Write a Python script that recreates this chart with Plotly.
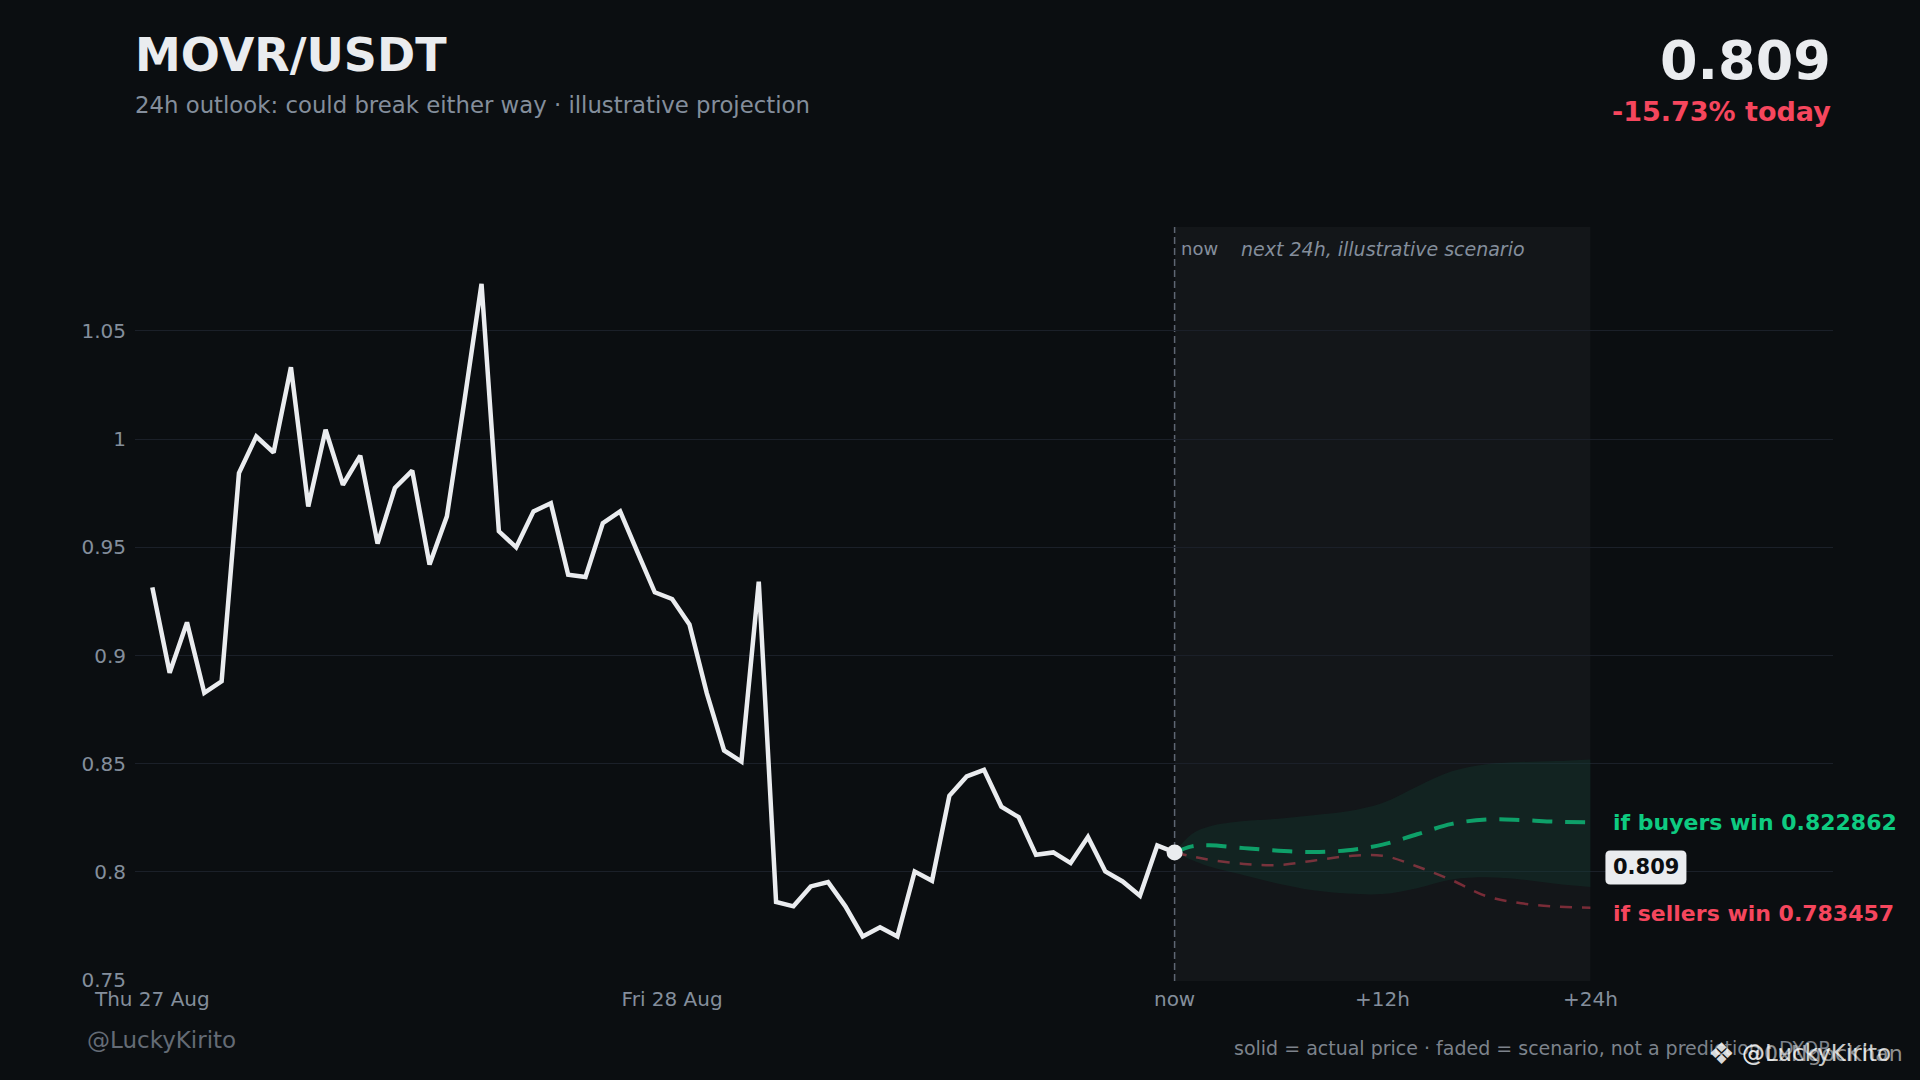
import plotly.graph_objects as go

# ---------------- data ----------------
hist_hours = list(range(-59, 1))  # hourly candles, 0 = now
hist_price = [
    0.9315, 0.8920, 0.9153, 0.8827, 0.8881, 0.9843, 1.0012, 0.9938, 1.0332, 0.9689,
    1.0043, 0.9789, 0.9923, 0.9517, 0.9774, 0.9854, 0.9420, 0.9643, 1.0170, 1.0717,
    0.9574, 0.9500, 0.9666, 0.9704, 0.9373, 0.9363, 0.9612, 0.9666, 0.9478, 0.9292,
    0.9261, 0.9143, 0.8826, 0.8561, 0.8510, 0.9341, 0.7861, 0.7841, 0.7933, 0.7953,
    0.7841, 0.7702, 0.7744, 0.7702, 0.8002, 0.7959, 0.8352, 0.8441, 0.8472, 0.8302,
    0.8253, 0.8079, 0.8090, 0.8041, 0.8161, 0.8002, 0.7956, 0.7890, 0.8122, 0.8090,
]

proj_hours = [0, 1, 2, 4, 6, 8, 10, 12, 14, 16, 18, 20, 22, 24]
buyers = [0.809, 0.8118, 0.8123, 0.8110, 0.8098, 0.8092, 0.8100, 0.8126, 0.8174,
          0.8222, 0.8242, 0.8240, 0.8232, 0.822862]
sellers = [0.809, 0.8072, 0.8056, 0.8037, 0.8032, 0.8052, 0.8073, 0.8075, 0.8025,
           0.7962, 0.7888, 0.7855, 0.7840, 0.783457]
band_upper = [0.809, 0.8175, 0.8210, 0.8235, 0.8246, 0.8262, 0.8280, 0.8318, 0.8395,
              0.8465, 0.8498, 0.8508, 0.8512, 0.8520]
band_lower = [0.809, 0.8055, 0.8025, 0.7985, 0.7945, 0.7915, 0.7900, 0.7898, 0.7925,
              0.7965, 0.7975, 0.7965, 0.7945, 0.7930]

tick_vals = [-59, -29, 0, 12, 24]
tick_text = ["Thu 27 Aug", "Fri 28 Aug", "now", "+12h", "+24h"]

last_price = "0.809"
change_text = "-15.73% today"
pair = "MOVR/USDT"

# ---------------- style ----------------
BG = "#0b0e11"
GRID = "#1b2029"
MUTED = "#848e9c"
WHITE = "#eaecef"
GREEN = "#0ecb81"
RED = "#f6465d"
FONT = "DejaVu Sans"

W, H = 1920, 1080
ML, MR, MT, MB = 135, 87, 227, 99
PH = H - MT - MB
PW = W - ML - MR


def py(px):
    return (H - MB - px) / PH


def pxx(px):
    return (px - ML) / PW


fig = go.Figure()

# band
fig.add_trace(go.Scatter(x=proj_hours, y=band_upper, mode="lines",
                         line=dict(width=0, shape="spline", color="rgba(0,0,0,0)"),
                         hoverinfo="skip", showlegend=False))
fig.add_trace(go.Scatter(x=proj_hours, y=band_lower, mode="lines",
                         line=dict(width=0, shape="spline", color="rgba(0,0,0,0)"),
                         fill="tonexty", fillcolor="rgba(14,203,129,0.075)",
                         hoverinfo="skip", showlegend=False))
# sellers scenario (faded)
fig.add_trace(go.Scatter(x=proj_hours, y=sellers, mode="lines",
                         line=dict(width=2.5, shape="spline", color="rgba(246,70,93,0.45)",
                                   dash="12px,10px"),
                         showlegend=False))
# buyers scenario
fig.add_trace(go.Scatter(x=proj_hours, y=buyers, mode="lines",
                         line=dict(width=4, shape="spline", color="rgba(14,203,129,0.75)",
                                   dash="20px,13px"),
                         showlegend=False))
# actual price
fig.add_trace(go.Scatter(x=hist_hours, y=hist_price, mode="lines",
                         line=dict(width=4.5, color=WHITE), showlegend=False))
fig.add_trace(go.Scatter(x=[hist_hours[-1]], y=[hist_price[-1]], mode="markers",
                         marker=dict(size=16, color=WHITE, line=dict(width=0)),
                         showlegend=False))

shapes = [
    dict(type="rect", xref="x", yref="paper", x0=0, x1=24, y0=0, y1=1,
         fillcolor="rgba(255,255,255,0.035)", line=dict(width=0), layer="below"),
    dict(type="line", xref="x", yref="paper", x0=0, x1=0, y0=0, y1=1,
         line=dict(color="#5e6673", width=1.5, dash="7px,4px"), layer="below"),
    dict(type="path", xref="x", yref="y", xsizemode="pixel", ysizemode="pixel",
         xanchor=24, yanchor=hist_price[-1],
         path="M 20,2 L 91,2 Q 96,2 96,-3 L 96,-27 Q 96,-32 91,-32 L 20,-32 "
              "Q 15,-32 15,-27 L 15,-3 Q 15,2 20,2 Z",
         fillcolor=WHITE, line=dict(width=0)),
]

annotations = [
    dict(text=f"<b>{pair}</b>", xref="paper", yref="paper", x=pxx(133), y=py(55),
         xanchor="left", yanchor="middle", showarrow=False,
         font=dict(family=FONT, size=46, color=WHITE)),
    dict(text="24h outlook: could break either way · illustrative projection",
         xref="paper", yref="paper", x=pxx(133), y=py(105), xanchor="left",
         yanchor="middle", showarrow=False, font=dict(family=FONT, size=22.8, color=MUTED)),
    dict(text=f"<b>{last_price}</b>", xref="paper", yref="paper", x=1, y=py(61),
         xanchor="right", yanchor="middle", showarrow=False,
         font=dict(family=FONT, size=54, color=WHITE)),
    dict(text=f"<b>{change_text}</b>", xref="paper", yref="paper", x=1, y=py(112),
         xanchor="right", yanchor="middle", showarrow=False,
         font=dict(family=FONT, size=27, color=RED)),
    dict(text="now", xref="x", yref="paper", x=0, y=1, xanchor="left", yanchor="top",
         xshift=4, yshift=-9, showarrow=False, font=dict(family=FONT, size=18, color=MUTED)),
    dict(text="<i>next 24h, illustrative scenario</i>", xref="x", yref="paper", x=0, y=1,
         xanchor="left", yanchor="top", xshift=64, yshift=-9, showarrow=False,
         font=dict(family=FONT, size=19, color=MUTED)),
    dict(text=f"<b>if buyers win {buyers[-1]}</b>", xref="x", yref="y", x=24, y=buyers[-1],
         xanchor="left", yanchor="middle", xshift=21, showarrow=False,
         font=dict(family=FONT, size=22, color=GREEN)),
    dict(text=f"<b>if sellers win {sellers[-1]}</b>", xref="x", yref="y", x=24, y=sellers[-1],
         xanchor="left", yanchor="middle", xshift=21, yshift=-6, showarrow=False,
         font=dict(family=FONT, size=22, color=RED)),
    dict(text=f"<b>{last_price}</b>", xref="x", yref="y", x=24, y=hist_price[-1],
         xanchor="center", yanchor="middle", xshift=55.5, yshift=-15, showarrow=False,
         font=dict(family=FONT, size=21, color=BG)),
    dict(text="@LuckyKirito", xref="paper", yref="paper", x=pxx(85), y=py(1040),
         xanchor="left", yanchor="middle", showarrow=False,
         font=dict(family=FONT, size=23, color="#646b75")),
    dict(text="solid = actual price · faded = scenario, not a prediction · DYOR",
         xref="paper", yref="paper", x=1, y=py(1048), xanchor="right", yanchor="middle",
         showarrow=False, font=dict(family=FONT, size=19, color="#7d838c")),
    # platform watermark overlay (as in the reference picture)
    dict(text="❖", xref="paper", yref="paper", x=pxx(1706), y=py(1053),
         xanchor="left", yanchor="middle", showarrow=False,
         font=dict(family=FONT, size=30, color="rgba(255,255,255,0.85)")),
    dict(text="@LuckyKirito", xref="paper", yref="paper", x=pxx(1740), y=py(1053),
         xanchor="left", yanchor="middle", showarrow=False,
         font=dict(family=FONT, size=23, color="rgba(255,255,255,0.8)")),
    dict(text="@0xNgocKhan", xref="paper", yref="paper", x=pxx(1740), y=py(1053),
         xanchor="left", yanchor="middle", showarrow=False,
         font=dict(family=FONT, size=22, color="rgba(255,255,255,0.55)")),
]

fig.update_layout(
    width=W, height=H,
    margin=dict(l=ML, r=MR, t=MT, b=MB, pad=0),
    paper_bgcolor=BG, plot_bgcolor=BG,
    font=dict(family=FONT, color=MUTED),
    shapes=shapes, annotations=annotations,
    xaxis=dict(range=[-60, 38], tickvals=tick_vals, ticktext=tick_text,
               showgrid=False, zeroline=False, showline=False, ticks="",
               tickfont=dict(family=FONT, size=20, color=MUTED), ticklabelstandoff=4),
    yaxis=dict(range=[0.7496, 1.098], dtick=0.05, tick0=0.75, showgrid=True,
               gridcolor=GRID, gridwidth=1, zeroline=False, showline=False, ticks="",
               tickfont=dict(family=FONT, size=20, color=MUTED), ticklabelstandoff=8),
    hovermode=False,
)

fig.write_html(
    "out.html",
    config={"displayModeBar": False, "staticPlot": True},
    post_script="document.body.style.margin='0';document.body.style.background='#0b0e11';"
                "document.documentElement.style.overflow='hidden';",
)
